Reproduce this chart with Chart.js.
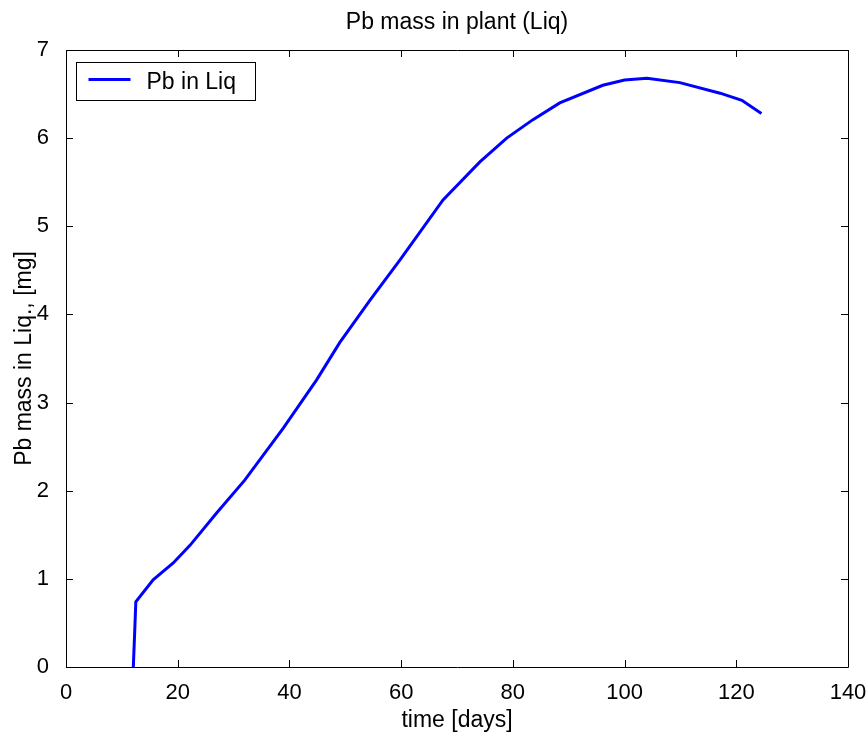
<!DOCTYPE html>
<html>
<head>
<meta charset="utf-8">
<script src="https://cdn.jsdelivr.net/npm/chart.js@4/dist/chart.umd.min.js"></script>
<style>
html,body{margin:0;padding:0;background:#fff;}
#wrap{width:868px;height:735px;}
</style>
</head>
<body>
<div id="wrap"><canvas id="c" width="868" height="735"></canvas></div>
<script>
const titleText = "Pb mass in plant (Liq)";
const xTitle = "time [days]";
const yTitle = "Pb mass in Liq., [mg]";
const seriesLabel = "Pb in Liq";
const days = [12.05, 12.3, 12.5, 15.6, 19.2, 22.2, 27, 32, 38.9, 44.9, 49, 54.4, 59.8, 67.5, 74.1, 78.9, 83.6, 88.4, 96.1, 100, 104, 109.9, 117.1, 121, 124.5];
const mass = [0, 0.4, 0.74, 0.99, 1.18, 1.38, 1.75, 2.12, 2.71, 3.26, 3.68, 4.16, 4.62, 5.30, 5.73, 6.0, 6.21, 6.40, 6.60, 6.66, 6.68, 6.63, 6.51, 6.43, 6.28];
const xTicks = [0, 20, 40, 60, 80, 100, 120, 140];
const yTicks = [0, 1, 2, 3, 4, 5, 6, 7];

const FONT = "'Liberation Sans', Arial, sans-serif";
const points = days.map((d, i) => ({x: d, y: mass[i]}));

const framePlugin = {
  id: 'frame',
  afterDatasetsDraw(chart) {
    const ctx = chart.ctx, a = chart.chartArea;
    const xs = chart.scales.x, ys = chart.scales.y;
    ctx.save();
    ctx.strokeStyle = '#000';
    ctx.lineWidth = 1;
    ctx.beginPath();
    ctx.rect(Math.round(a.left) + 0.5, Math.round(a.top) + 0.5, Math.round(a.right - a.left), Math.round(a.bottom - a.top));
    ctx.stroke();
    const L = 7;
    ctx.beginPath();
    xTicks.forEach(v => {
      const px = Math.round(xs.getPixelForValue(v)) + 0.5;
      ctx.moveTo(px, a.bottom); ctx.lineTo(px, a.bottom - L);
      ctx.moveTo(px, a.top); ctx.lineTo(px, a.top + L);
    });
    yTicks.forEach(v => {
      const py = Math.round(ys.getPixelForValue(v)) + 0.5;
      ctx.moveTo(a.left, py); ctx.lineTo(a.left + L, py);
      ctx.moveTo(a.right, py); ctx.lineTo(a.right - L, py);
    });
    ctx.stroke();
    // legend
    const ds = chart.data.datasets[0];
    const bx = a.left + 10.5, by = a.top + 12.5, bw = 179, bh = 38;
    ctx.fillStyle = '#fff';
    ctx.fillRect(bx, by, bw, bh);
    ctx.strokeStyle = '#000';
    ctx.strokeRect(bx, by, bw, bh);
    ctx.strokeStyle = ds.borderColor;
    ctx.lineWidth = 3;
    ctx.beginPath();
    ctx.moveTo(bx + 12, by + bh / 2 - 2);
    ctx.lineTo(bx + 54, by + bh / 2 - 2);
    ctx.stroke();
    ctx.fillStyle = '#000';
    ctx.font = "23px " + FONT;
    ctx.textBaseline = 'middle';
    ctx.textAlign = 'left';
    ctx.fillText(ds.label, bx + 70, by + bh / 2 + 1);
    ctx.restore();
  }
};

new Chart(document.getElementById('c'), {
  type: 'line',
  data: {
    datasets: [{
      label: seriesLabel,
      data: points,
      borderColor: '#0000FF',
      backgroundColor: '#0000FF',
      borderWidth: 3,
      pointRadius: 0,
      tension: 0,
      fill: false
    }]
  },
  options: {
    responsive: false,
    animation: false,
    layout: {padding: 0},
    plugins: {
      legend: {display: false},
      title: {display: false},
      tooltip: {enabled: false}
    },
    scales: {
      x: {
        type: 'linear', position: 'bottom', min: 0, max: 140,
        afterBuildTicks(s) { s.ticks = xTicks.map(v => ({value: v})); },
        afterFit(s) { s.height = 68; s.paddingLeft = 0; s.paddingRight = 0; },
        grid: {display: false},
        border: {display: false},
        ticks: {color: '#000', font: {family: FONT, size: 22}, padding: 5, maxRotation: 0, autoSkip: false},
        title: {display: true, text: xTitle, color: '#000', font: {family: FONT, size: 23}, padding: {top: 0, bottom: 1}}
      },
      x2: {
        type: 'linear', position: 'top', min: 0, max: 140,
        afterFit(s) { s.height = 50; s.paddingLeft = 0; s.paddingRight = 0; },
        grid: {display: false},
        border: {display: false},
        ticks: {display: false},
        title: {display: true, text: titleText, color: '#000', font: {family: FONT, size: 23}, padding: {top: 9, bottom: 0}}
      },
      y: {
        type: 'linear', position: 'left', min: 0, max: 7,
        afterBuildTicks(s) { s.ticks = yTicks.map(v => ({value: v})); },
        afterFit(s) { s.width = 66; s.paddingTop = 0; s.paddingBottom = 0; },
        grid: {display: false},
        border: {display: false},
        ticks: {color: '#000', font: {family: FONT, size: 22}, padding: 9},
        title: {display: true, text: yTitle, color: '#000', font: {family: FONT, size: 23}, padding: {top: 11, bottom: 0}}
      },
      y2: {
        type: 'linear', position: 'right', min: 0, max: 7,
        afterFit(s) { s.width = 20; s.paddingTop = 0; s.paddingBottom = 0; },
        grid: {display: false},
        border: {display: false},
        ticks: {display: false}
      }
    }
  },
  plugins: [framePlugin]
});
</script>
</body>
</html>
